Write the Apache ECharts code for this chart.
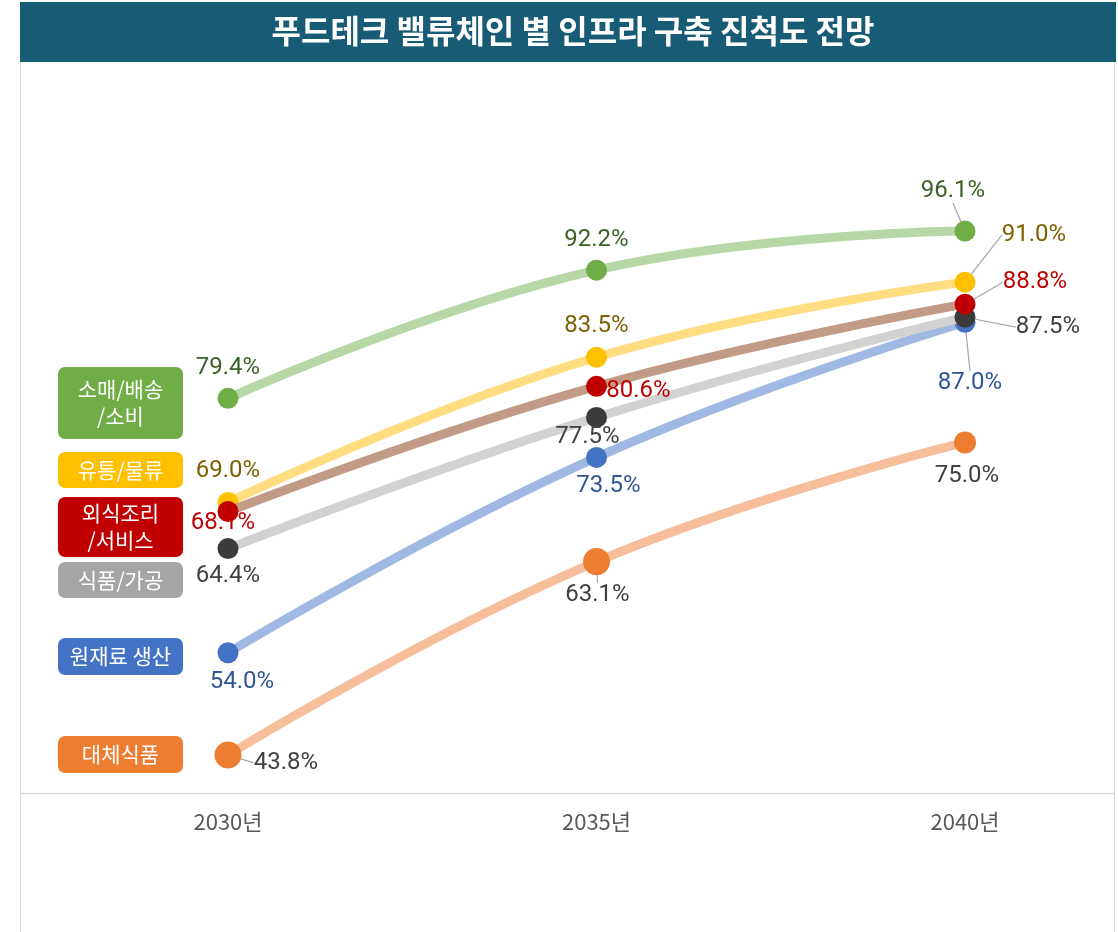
<!DOCTYPE html>
<html>
<head>
<meta charset="utf-8">
<script src="https://cdn.jsdelivr.net/npm/echarts@6/dist/echarts.min.js"></script>
<style>
  html, body { margin: 0; padding: 0; background: #fff; }
  #chart { width: 1118px; height: 932px; }
</style>
</head>
<body>
<div id="chart"></div>
<script>
// 데이터
const years = ['2030년', '2035년', '2040년'];
const seriesNames = ['대체식품', '원재료 생산', '식품/가공', '유통/물류', '외식조리/서비스', '소매/배송/소비'];
const altFood = [43.8, 63.1, 75.0];
const rawMaterial = [54.0, 73.5, 87.0];
const processing = [64.4, 77.5, 87.5];
const logistics = [69.0, 83.5, 91.0];
const foodService = [68.1, 80.6, 88.8];
const retail = [79.4, 92.2, 96.1];
const boxLabels = ['소매/배송\n/소비', '유통/물류', '외식조리\n/서비스', '식품/가공', '원재료 생산', '대체식품'];

const chart = echarts.init(document.getElementById('chart'));

// 스타일 (시리즈 순서대로)
const styles = [
  { line: '#f6be9b', dot: '#ed7d31', text: '#404040', sizes: [27, 27, 22],
    off: [[58, 8], [1, 33], [2, 34]], leader: [true, true, false] },
  { line: '#a0b9e3', dot: '#4472c4', text: '#2f5597', sizes: [21, 21, 21],
    off: [[14, 29], [12, 29], [5, 61]], leader: [false, false, true] },
  { line: '#d2d2d2', dot: '#3b3b3b', text: '#404040', sizes: [21, 21, 21],
    off: [[0, 27], [-9, 20], [83, 10]], leader: [false, false, true] },
  { line: '#ffdd80', dot: '#ffc000', text: '#7f6000', sizes: [21, 21, 21],
    off: [[0, -32], [0, -31], [69, -47]], leader: [false, false, true] },
  { line: '#c19b85', dot: '#c00000', text: '#c00000', sizes: [21, 21, 21],
    off: [[-5, 11], [42, 5], [70, -22]], leader: [false, false, true] },
  { line: '#b7d7a6', dot: '#70ad47', text: '#3b6127', sizes: [21, 21, 21],
    off: [[0, -30], [0, -30], [-12, -40]], leader: [false, false, true] }
];
const values = [altFood, rawMaterial, processing, logistics, foodService, retail];

const series = values.map((vals, si) => {
  const st = styles[si];
  return {
    name: seriesNames[si],
    type: 'line',
    smooth: 0.45,
    symbol: 'circle',
    showAllSymbol: true,
    z: 2 + si,
    lineStyle: { color: st.line, width: 9 },
    itemStyle: { color: st.dot },
    data: vals.map((v, i) => ({
      value: v,
      symbolSize: st.sizes[i],
      labelLine: { show: st.leader[i], lineStyle: { color: '#a6a6a6', width: 1.2 } }
    })),
    label: {
      show: true,
      position: 'inside',
      formatter: p => p.value.toFixed(1) + '%',
      color: st.text,
      fontSize: 24,
      fontFamily: 'Roboto, "Noto Sans CJK KR", sans-serif'
    },
    labelLayout: p => ({ dx: st.off[p.dataIndex][0], dy: st.off[p.dataIndex][1] }),
    emphasis: { disabled: true }
  };
});

// 왼쪽 라벨 박스
const boxColors = ['#70ad47', '#ffc000', '#c00000', '#a5a5a5', '#4472c4', '#ed7d31'];
const boxTops = [367, 452, 497, 562, 638, 736];
const boxHeights = [72, 36, 60, 36, 37, 37];
const boxes = boxLabels.map((t, i) => ({
  type: 'group',
  left: 58,
  top: boxTops[i],
  children: [
    { type: 'rect', shape: { x: 0, y: 0, width: 125, height: boxHeights[i], r: 7 },
      style: { fill: boxColors[i] } },
    { type: 'text', x: 62.5, y: boxHeights[i] / 2,
      style: { text: t, fill: '#fff', fontSize: 21, lineHeight: 27,
        fontFamily: '"Noto Sans CJK KR", sans-serif', align: 'center', verticalAlign: 'middle' } }
  ]
}));

chart.setOption({
  backgroundColor: '#fff',
  animation: false,
  title: {
    text: '푸드테크 밸류체인 별 인프라 구축 진척도 전망',
    left: 568,
    textAlign: 'center',
    top: 10,
    textStyle: { color: '#fff', fontSize: 32, fontWeight: 'bold',
      fontFamily: '"Noto Sans CJK KR", sans-serif' }
  },
  graphic: [
    { type: 'rect', z: -1, shape: { x: 20, y: 2, width: 1096, height: 60 }, style: { fill: '#175b74' } },
    { type: 'line', z: -1, shape: { x1: 20.5, y1: 62, x2: 20.5, y2: 932 }, style: { stroke: '#d9d9d9', lineWidth: 1 } },
    { type: 'line', z: -1, shape: { x1: 1114.5, y1: 62, x2: 1114.5, y2: 932 }, style: { stroke: '#d9d9d9', lineWidth: 1 } },
    { type: 'line', z: -1, shape: { x1: 20, y1: 793.5, x2: 1115, y2: 793.5 }, style: { stroke: '#d9d9d9', lineWidth: 1.5 } }
  ].concat(boxes),
  grid: { left: 228, right: 153, top: 192, bottom: 139 },
  xAxis: {
    type: 'category',
    data: years,
    boundaryGap: false,
    axisLine: { show: false },
    axisTick: { show: false },
    axisLabel: { color: '#595959', fontSize: 22, margin: 18,
      fontFamily: '"Noto Sans CJK KR", sans-serif' }
  },
  yAxis: {
    type: 'value',
    min: 40,
    max: 100,
    show: false,
    splitLine: { show: false }
  },
  series: series
});
</script>
</body>
</html>
